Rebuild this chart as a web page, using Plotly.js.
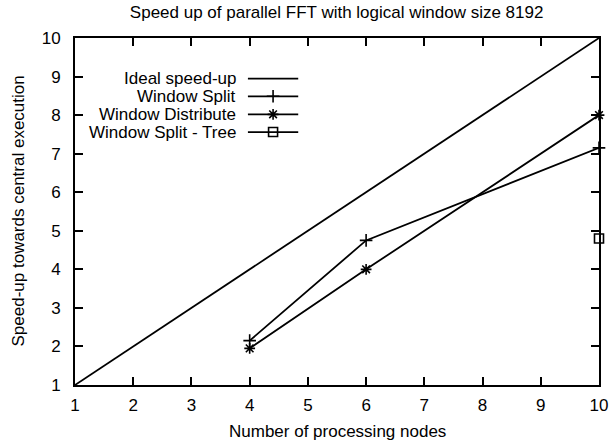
<!DOCTYPE html>
<html>
<head>
<meta charset="utf-8">
<script src="https://cdn.plot.ly/plotly-3.0.1.min.js"></script>
<style>html,body{margin:0;padding:0;background:#fff}</style>
</head>
<body>
<div id="chart" style="width:611px;height:443px"></div>
<script>
// Speed-up measurements of the parallel FFT (logical window size 8192)
const idealNodes = [1, 10];
const idealSpeedup = [1, 10];

const splitNodes = [4, 6, 10];
const splitSpeedup = [2.15, 4.75, 7.15];

const distributeNodes = [4, 6, 10];
const distributeSpeedup = [1.95, 4.0, 8.0];

const treeNodes = [10];
const treeSpeedup = [4.8];

const seriesNames = ["Ideal speed-up", "Window Split", "Window Distribute", "Window Split - Tree"];
const xTicks = [1, 2, 3, 4, 5, 6, 7, 8, 9, 10];
const yTicks = [1, 2, 3, 4, 5, 6, 7, 8, 9, 10];

const FONT = "Liberation Sans, Arial, Helvetica, sans-serif";
const FS = 17;
const ink = "#000";

const series = [
  {x: idealNodes, y: idealSpeedup, symbol: null},
  {x: splitNodes, y: splitSpeedup, symbol: "cross-thin-open"},
  {x: distributeNodes, y: distributeSpeedup, symbol: "asterisk-open"},
  {x: treeNodes, y: treeSpeedup, symbol: "square-open"}
];

function markerStyle(symbol) {
  return {symbol: symbol, size: 9, color: ink, line: {color: ink, width: 1.6}};
}

const traces = series.map((s, i) => {
  const t = {
    type: "scatter",
    x: s.x, y: s.y,
    mode: s.symbol ? "lines+markers" : "lines",
    name: seriesNames[i],
    line: {color: ink, width: 1.8},
    cliponaxis: false,
    showlegend: false,
    hoverinfo: "skip"
  };
  if (s.symbol) t.marker = markerStyle(s.symbol);
  return t;
});

// Key in the upper-left corner: label on the left, line sample on the right.
// It lives on an overlay axis whose units span the frame (0..1 each way).
const keyRows = [0.883, 0.832, 0.780, 0.729];
const keyLineX = [0.330, 0.426];
const keyMarkX = 0.378;
const keyTextX = 0.311;
const annotations = [];
series.forEach((s, i) => {
  traces.push({
    type: "scatter", xaxis: "x2", yaxis: "y2",
    x: keyLineX, y: [keyRows[i], keyRows[i]], mode: "lines",
    line: {color: ink, width: 1.8}, showlegend: false, hoverinfo: "skip"
  });
  if (s.symbol) {
    traces.push({
      type: "scatter", xaxis: "x2", yaxis: "y2",
      x: [keyMarkX], y: [keyRows[i]], mode: "markers",
      marker: markerStyle(s.symbol),
      showlegend: false, hoverinfo: "skip"
    });
  }
  annotations.push({
    xref: "x2", yref: "y2", x: keyTextX, y: keyRows[i],
    text: seriesNames[i], showarrow: false,
    xanchor: "right", yanchor: "middle",
    font: {family: FONT, size: FS, color: ink}
  });
});

// Axis titles placed below / left of the frame
annotations.push({
  xref: "paper", yref: "paper", x: 0.5, y: 0, yshift: -46,
  text: "Number of processing nodes", showarrow: false,
  xanchor: "center", yanchor: "middle",
  font: {family: FONT, size: FS, color: ink}
});
annotations.push({
  xref: "paper", yref: "paper", x: 0, y: 0.5, xshift: -57,
  text: "Speed-up towards central execution", showarrow: false, textangle: -90,
  xanchor: "center", yanchor: "middle",
  font: {family: FONT, size: FS, color: ink}
});

const axisCommon = {
  showline: true, linecolor: ink, linewidth: 2,
  mirror: "allticks", ticks: "inside", ticklen: 8, tickwidth: 2, tickcolor: ink,
  showgrid: false, zeroline: false,
  tickfont: {family: FONT, size: FS, color: ink}
};

const layout = {
  width: 611, height: 443,
  margin: {l: 75, r: 12, t: 38, b: 58, pad: 0},
  paper_bgcolor: "#fff", plot_bgcolor: "#fff",
  showlegend: false,
  title: {
    text: "Speed up of parallel FFT with logical window size 8192",
    font: {family: FONT, size: FS, color: ink},
    x: 0.551, xanchor: "center", y: 0.973, yanchor: "middle"
  },
  xaxis: Object.assign({}, axisCommon, {
    range: [1, 10], tickvals: xTicks, ticktext: xTicks.map(String),
    ticklabelstandoff: 4
  }),
  yaxis: Object.assign({}, axisCommon, {
    range: [1, 10], tickvals: yTicks, ticktext: yTicks.map(String),
    ticklabelstandoff: 9
  }),
  xaxis2: {overlaying: "x", range: [0, 1], visible: false, fixedrange: true},
  yaxis2: {overlaying: "y", range: [0, 1], visible: false, fixedrange: true},
  annotations: annotations
};

Plotly.newPlot("chart", traces, layout, {staticPlot: true, displayModeBar: false});
</script>
</body>
</html>
